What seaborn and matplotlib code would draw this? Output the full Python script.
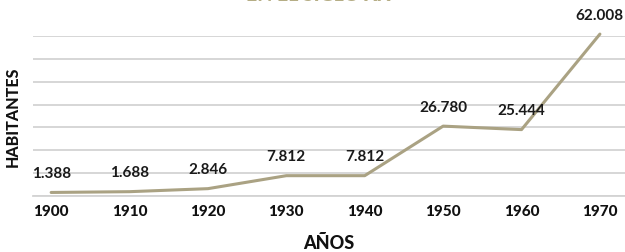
import numpy as np
import pandas as pd
import matplotlib
matplotlib.use("Agg")
import matplotlib.pyplot as plt
import seaborn as sns

# datos
anios = ["1900", "1910", "1920", "1930", "1940", "1950", "1960", "1970"]
habitantes = [1388, 1688, 2846, 7812, 7812, 26780, 25444, 62008]
etiquetas = ["1.388", "1.688", "2.846", "7.812", "7.812", "26.780", "25.444", "62.008"]

df = pd.DataFrame({"anio": anios, "hab": habitantes})
df["pos"] = np.arange(len(anios))

sns.set_theme(style="white")
plt.rcParams["font.family"] = ["Lato", "DejaVu Sans"]

fig = plt.figure(figsize=(6.25, 2.53), dpi=100)
ax = fig.add_axes([0.053, 0.221, 0.947, 0.633])

linea = "#aaa283"
sns.lineplot(data=df, x="pos", y="hab", ax=ax, color=linea, linewidth=2.2,
             clip_on=False, zorder=3)

ymax = 61300
ax.set_ylim(0, ymax)
ax.set_yticks(np.linspace(0, ymax, 8))
ax.set_xlim(-0.23, 7.32)
ax.set_xticks(df["pos"])
ax.set_xticklabels(anios, fontsize=11, fontweight="black", color="#111111")
ax.tick_params(axis="x", length=0, pad=6)
ax.tick_params(axis="y", length=0, labelleft=False)
ax.grid(axis="y", color="#d3d3d3", linewidth=1.3)
for s in ["top", "right", "left"]:
    ax.spines[s].set_visible(False)
ax.spines["bottom"].set_color("#d3d3d3")
ax.spines["bottom"].set_linewidth(1.3)

# etiquetas de datos
for p, v, t in zip(df["pos"], habitantes, etiquetas):
    ax.annotate(t, (p, v), xytext=(0, 9), textcoords="offset points",
                ha="center", va="bottom", fontsize=11, fontweight="bold",
                color="#1a1a1a", annotation_clip=False)

ax.set_xlabel("AÑOS", fontsize=13, fontweight="black", color="#111111", labelpad=11)
ax.set_ylabel("HABITANTES", fontsize=11.5, fontweight="black", color="#111111", labelpad=9)

# titulo (cortado arriba, como en el original)
fig.text(0.51, 1.018, "EN EL SIGLO XX", ha="center", va="center",
         fontsize=14, fontweight="black", color="#b5ad85")

fig.savefig("out.png", dpi=100)
